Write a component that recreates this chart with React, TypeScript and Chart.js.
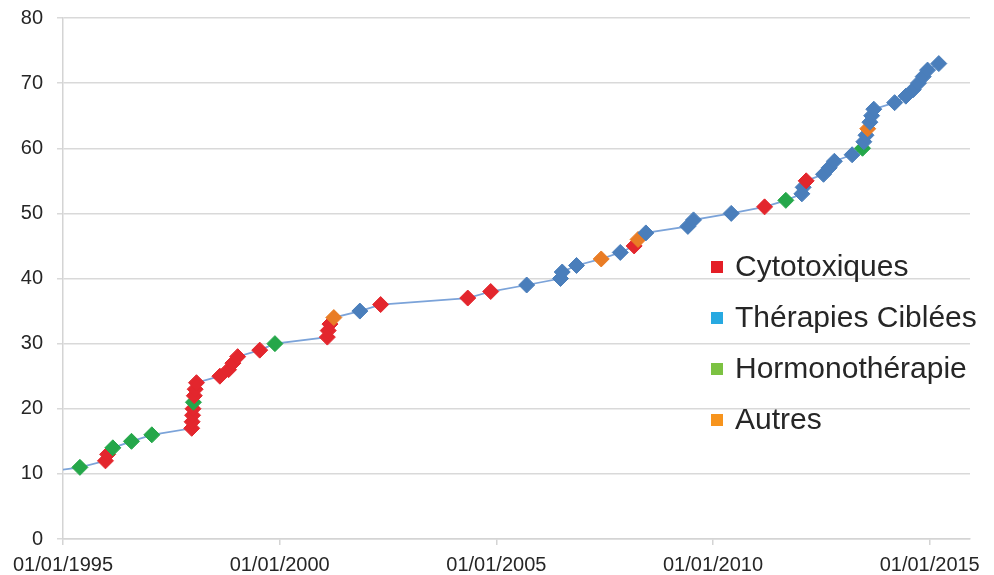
import React, { useEffect, useRef } from "react";
import { Chart, registerables } from "chart.js";

Chart.register(...registerables);

// Approval date (decimal year) of each drug, cumulative count, and its class
const approvalYears = [
  1994.3, 1995.39, 1995.98, 1996.03, 1996.15, 1996.58, 1997.05,
  1997.97, 1997.98, 1997.99, 1998.0, 1998.01, 1998.03, 1998.05, 1998.08,
  1998.62, 1998.82, 1998.92, 1999.03, 1999.54, 1999.89,
  2001.1, 2001.12, 2001.16, 2001.25, 2001.85, 2002.33,
  2004.34, 2004.87, 2005.7, 2006.48, 2006.52, 2006.85, 2007.42, 2007.86,
  2008.18, 2008.27, 2008.45, 2009.42, 2009.55, 2010.42,
  2011.19, 2011.68, 2012.05, 2012.08, 2012.15, 2012.55, 2012.68, 2012.8,
  2013.21, 2013.45, 2013.48, 2013.53, 2013.57, 2013.62, 2013.66, 2013.71,
  2014.19, 2014.45, 2014.62, 2014.74, 2014.85, 2014.95, 2015.21,
];

const cumulativeCount = [
  10, 11, 12, 13, 14, 15, 16,
  17, 18, 19, 20, 21, 22, 23, 24,
  25, 26, 27, 28, 29, 30,
  31, 32, 33, 34, 35, 36,
  37, 38, 39, 40, 41, 42, 43, 44,
  45, 46, 47, 48, 49, 50,
  51, 52, 53, 54, 55, 56, 57, 58,
  59, 60, 61, 62, 63, 64, 65, 66,
  67, 68, 69, 70, 71, 72, 73,
];

// C = Cytotoxiques, T = Thérapies Ciblées, H = Hormonothérapie, A = Autres
const drugClass = [
  "C", "H", "C", "C", "H", "H", "H",
  "C", "C", "C", "C", "H", "C", "C", "C",
  "C", "C", "C", "C", "C", "H",
  "C", "C", "C", "A", "T", "C",
  "C", "C", "T", "T", "T", "T", "A", "T",
  "C", "A", "T", "T", "T", "T",
  "C", "H", "T", "T", "C", "T", "T", "T",
  "T", "H", "T", "T", "A", "T", "T", "T",
  "T", "T", "T", "T", "T", "T", "T",
];

const classKeys = ["C", "T", "H", "A"];
const classLabels = ["Cytotoxiques", "Thérapies Ciblées", "Hormonothérapie", "Autres"];
const markerColors = ["#e3262d", "#4a7ebb", "#25a74a", "#e97c25"];
const legendColors = ["#e41e26", "#27a9e1", "#7cc242", "#f7941d"];

const xTickYears = [1995, 2000, 2005, 2010, 2015];
const xMin = 1995;
const xMax = 2015.93;
const yMin = 0;
const yMax = 80;
const yStep = 10;

const legendPlugin = {
  id: "insideLegend",
  afterDraw(chart: any) {
    const { ctx, chartArea } = chart;
    ctx.save();
    ctx.font = '30px "Liberation Sans", Arial, sans-serif';
    ctx.textBaseline = "middle";
    ctx.textAlign = "left";
    const x0 = chartArea.left + 648;
    const y0 = chartArea.top + 249;
    const rowGap = 51;
    const sq = 12;
    classLabels.forEach((label, i) => {
      const y = y0 + i * rowGap;
      ctx.fillStyle = legendColors[i];
      ctx.fillRect(x0, y - sq / 2, sq, sq);
      ctx.fillStyle = "#262626";
      ctx.fillText(label, x0 + 24, y + 1);
    });
    ctx.restore();
  },
};

export default function App() {
  const canvasRef = useRef<HTMLCanvasElement | null>(null);

  useEffect(() => {
    document.body.style.margin = "0";
    const canvas = canvasRef.current;
    if (!canvas) return;
    const points = approvalYears.map((x, i) => ({ x, y: cumulativeCount[i] }));
    const colors = drugClass.map((c) => markerColors[classKeys.indexOf(c)]);
    const tickFont = { family: '"Liberation Sans", Arial, sans-serif', size: 20 };

    const chart = new Chart(canvas, {
      type: "line",
      data: {
        datasets: [
          {
            label: "Molécules",
            data: points,
            borderColor: "#7ba3d9",
            borderWidth: 1.75,
            pointStyle: "rectRot",
            pointRadius: 8,
            pointBorderWidth: 1,
            pointBackgroundColor: colors,
            pointBorderColor: colors,
            tension: 0,
            clip: { left: 0, top: 10, right: 10, bottom: 10 },
          },
        ],
      },
      options: {
        animation: false,
        responsive: false,
        devicePixelRatio: 1,
        layout: { padding: { left: 0, right: 24, top: 18, bottom: 0 } },
        plugins: { legend: { display: false }, tooltip: { enabled: false } },
        scales: {
          x: {
            type: "linear",
            min: xMin,
            max: xMax,
            afterBuildTicks: (scale: any) => {
              scale.ticks = xTickYears.map((v) => ({ value: v }));
            },
            afterFit: (scale: any) => {
              scale.height = 36;
              scale.paddingLeft = 0;
              scale.paddingRight = 0;
            },
            ticks: {
              autoSkip: false,
              maxRotation: 0,
              padding: 8,
              color: "#262626",
              font: tickFont,
              callback: (v: any) => "01/01/" + v,
            },
            grid: {
              drawOnChartArea: false,
              drawTicks: true,
              tickLength: 6,
              color: "#d4d4d4",
              lineWidth: 1.5,
            },
            border: { color: "#d4d4d4", width: 1.5 },
          },
          y: {
            min: yMin,
            max: yMax,
            afterFit: (scale: any) => {
              scale.width = 63;
              scale.paddingTop = 0;
              scale.paddingBottom = 0;
            },
            ticks: {
              stepSize: yStep,
              padding: 14,
              color: "#262626",
              font: tickFont,
            },
            grid: {
              drawTicks: true,
              tickLength: 6,
              color: "#d9d9d9",
              lineWidth: 1.5,
            },
            border: { color: "#d4d4d4", width: 1.5 },
          },
        },
      },
      plugins: [legendPlugin],
    });
    return () => chart.destroy();
  }, []);

  return (
    <div style={{ width: 994, height: 575, background: "#fff" }}>
      <canvas ref={canvasRef} width={994} height={575} />
    </div>
  );
}
